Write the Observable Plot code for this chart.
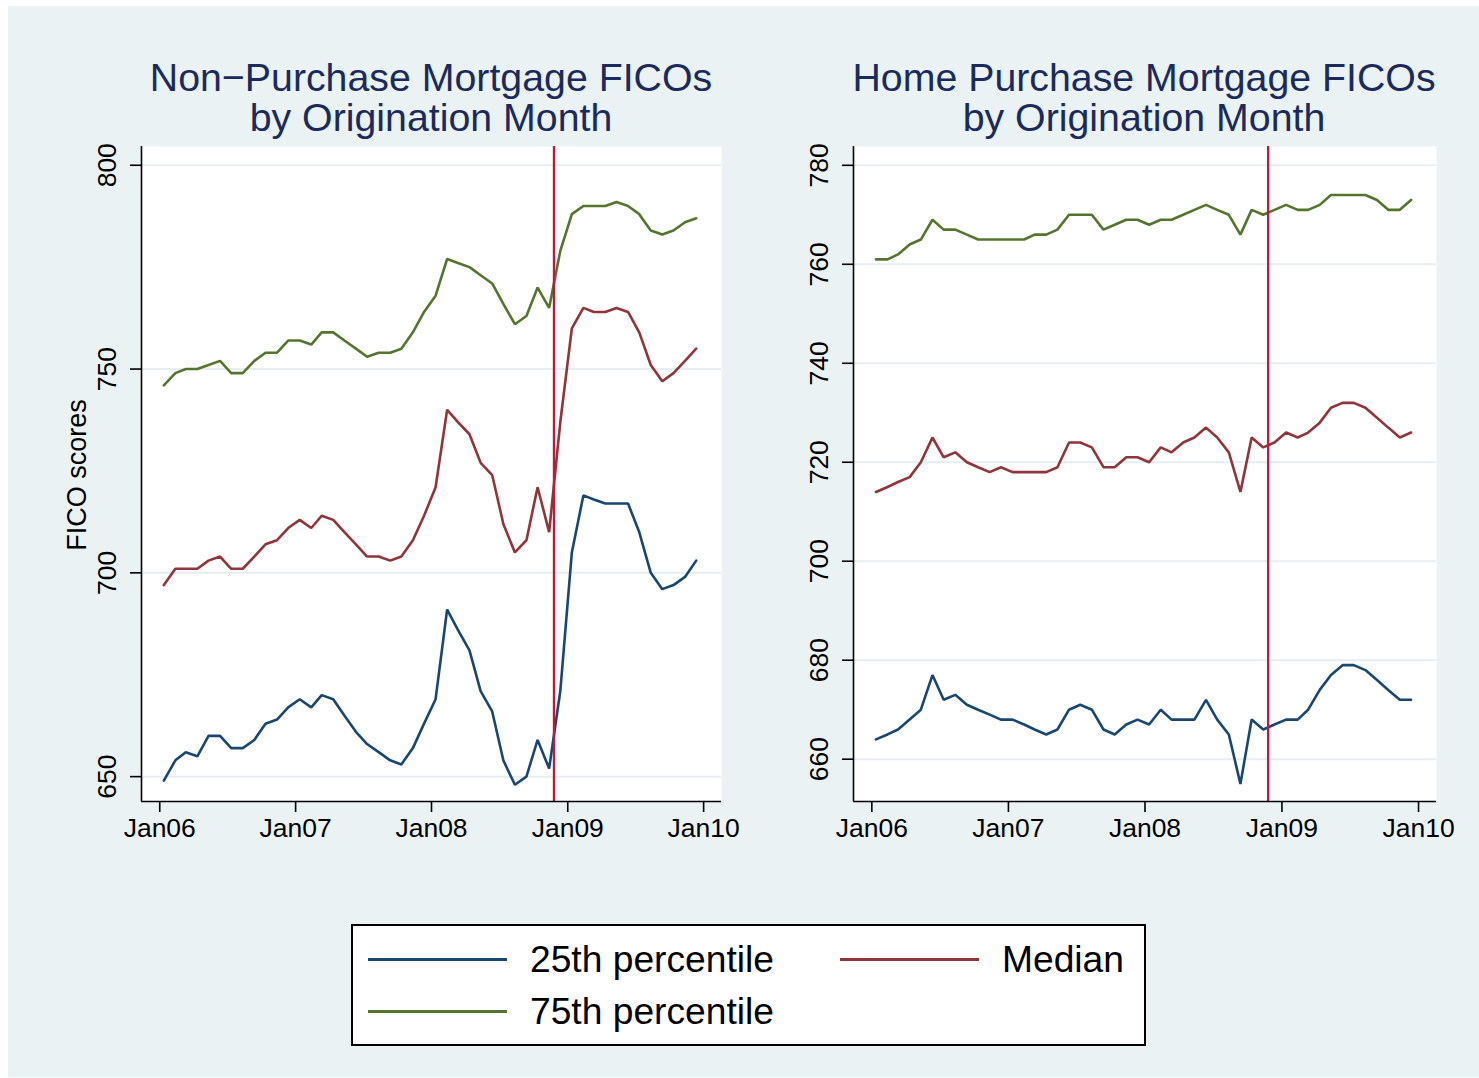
<!DOCTYPE html>
<html>
<head>
<meta charset="utf-8">
<script src="https://cdn.jsdelivr.net/npm/d3@7"></script>
<script src="https://cdn.jsdelivr.net/npm/@observablehq/plot@0.6"></script>
<style>
  body { margin: 0; background: #ffffff; font-family: "Liberation Sans", Arial, Helvetica, sans-serif; }
  #page { position: relative; width: 1479px; height: 1078px; overflow: hidden; }
  #bg { position: absolute; left: 8px; top: 6px; width: 1471px; height: 1071px; background: #eaf2f3; }
  .title { position: absolute; top: 57px; width: 700px; text-align: center; font-size: 39.3px; line-height: 40px; color: #1b2a5c; white-space: nowrap; }
  .panel { position: absolute; top: 0; }
  .panel svg { overflow: visible; }
  #ylab { position: absolute; left: 77px; top: 475px; font-size: 27px; line-height: 27px; white-space: nowrap; color: #000; transform: translate(-50%, -50%) rotate(-90deg); }
  #legend { position: absolute; left: 351px; top: 924px; width: 791px; height: 118px; border: 2px solid #000; background: #fff; }
  .sw { position: absolute; width: 139px; height: 3px; }
  .lt { position: absolute; font-size: 37.2px; line-height: 37.2px; white-space: nowrap; color: #000; }
</style>
</head>
<body>
<div id="page">
  <div id="bg"></div>
  <div class="title" style="left:81px">Non&minus;Purchase Mortgage FICOs<br>by Origination Month</div>
  <div class="title" style="left:794px">Home Purchase Mortgage FICOs<br>by Origination Month</div>
  <div id="left" class="panel" style="left:0px"></div>
  <div id="right" class="panel" style="left:740px"></div>
  <div id="ylab">FICO scores</div>
  <div id="legend"></div>
</div>
<script>
// ---- Data (monthly, Jan 2006 – Dec 2009) ----
const seriesNames = ["25th percentile", "Median", "75th percentile"];
const seriesColors = ["#1a476f", "#90353b", "#55752f"];

const nonPurchaseP25 = [649,654,656,655,660,660,657,657,659,663, 664,667,669,667,670,669,665,661,658,656,
  654,653,657,663,669,691,686,681,671,666, 654,648,650,659,652,671,705,719,718,717, 717,717,710,700,696,697,699,703];
const nonPurchaseMedian = [697,701,701,701,703,704,701,701,704,707, 708,711,713,711,714,713,710,707,704,704,
  703,704,708,714,721,740,737,734,727,724, 712,705,708,721,710,737,760,765,764,764, 765,764,759,751,747,749,752,755];
const nonPurchaseP75 = [746,749,750,750,751,752,749,749,752,754, 754,757,757,756,759,759,757,755,753,754,
  754,755,759,764,768,777,776,775,773,771, 766,761,763,770,765,779,788,790,790,790, 791,790,788,784,783,784,786,787];

const homeP25 = [664,665,666,668,670,677,672,673,671,670, 669,668,668,667,666,665,666,670,671,670,
  666,665,667,668,667,670,668,668,668,672, 668,665,655,668,666,667,668,668,670,674, 677,679,679,678,676,674,672,672];
const homeMedian = [714,715,716,717,720,725,721,722,720,719, 718,719,718,718,718,718,719,724,724,723,
  719,719,721,721,720,723,722,724,725,727, 725,722,714,725,723,724,726,725,726,728, 731,732,732,731,729,727,725,726];
const homeP75 = [761,761,762,764,765,769,767,767,766,765, 765,765,765,765,766,766,767,770,770,770,
  767,768,769,769,768,769,769,770,771,772, 771,770,766,771,770,771,772,771,771,772, 774,774,774,774,773,771,771,773];

const nonPurchaseYTicks = [650, 700, 750, 800];
const homeYTicks = [660, 680, 700, 720, 740, 760, 780];
const xTickYears = [2006, 2007, 2008, 2009, 2010];
const eventDate = new Date(Date.UTC(2008, 10, 25));

// month dates
const months = Array.from({length: 48}, (_, i) => new Date(Date.UTC(2006 + Math.floor(i / 12), i % 12, 12)));
const xTicks = xTickYears.map(y => new Date(Date.UTC(y, 0, 1)));
const xDomain = [new Date(Date.UTC(2005, 10, 13)), new Date(Date.UTC(2010, 1, 18))];

function toRows(p25, med, p75) {
  const rows = [];
  [[seriesNames[0], p25], [seriesNames[1], med], [seriesNames[2], p75]].forEach(([s, arr]) =>
    arr.forEach((v, i) => rows.push({date: months[i], value: v, series: s})));
  return rows;
}

function panel({rows, yDomain, yTicks, width, marginLeft, marginRight}) {
  return Plot.plot({
    width, height: 870,
    marginLeft, marginRight, marginTop: 146, marginBottom: 69,
    style: {background: "transparent", fontFamily: "'Liberation Sans', Arial, Helvetica, sans-serif", fontSize: "26.5px", color: "#000", overflow: "visible"},
    x: {type: "utc", domain: xDomain},
    y: {domain: yDomain},
    color: {domain: seriesNames, range: seriesColors},
    marks: [
      Plot.frame({fill: "#ffffff", stroke: "none"}),
      Plot.gridY(yTicks, {stroke: "#e6eef1", strokeOpacity: 1, strokeWidth: 2}),
      Plot.line(rows, {x: "date", y: "value", z: "series", stroke: "series", strokeWidth: 2.6, strokeLinejoin: "miter"}),
      Plot.ruleX([eventDate], {stroke: "#c8143c", strokeWidth: 2.3}),
      Plot.ruleX([xDomain[0]], {stroke: "#000", strokeWidth: 1.6}),
      Plot.ruleY([yDomain[0]], {stroke: "#000", strokeWidth: 1.6}),
      Plot.axisY(yTicks, {tickRotate: -90, tickSize: 11, tickPadding: 15, strokeWidth: 1.6, label: null, fontSize: 26.5}),
      Plot.axisX(xTicks, {tickFormat: d3.utcFormat("Jan%y"), tickSize: 11, tickPadding: 6, strokeWidth: 1.6, label: null, fontSize: 26.5})
    ]
  });
}

document.getElementById("left").appendChild(panel({
  rows: toRows(nonPurchaseP25, nonPurchaseMedian, nonPurchaseP75),
  yDomain: [643.9, 804.6], yTicks: nonPurchaseYTicks,
  width: 740, marginLeft: 141, marginRight: 19
}));
document.getElementById("right").appendChild(panel({
  rows: toRows(homeP25, homeMedian, homeP75),
  yDomain: [651.45, 783.8], yTicks: homeYTicks,
  width: 739, marginLeft: 113, marginRight: 43
}));

// legend
const legend = document.getElementById("legend");
const items = [
  {name: seriesNames[0], color: seriesColors[0], sx: 15, tx: 177, row: 0},
  {name: seriesNames[1], color: seriesColors[1], sx: 487, tx: 649, row: 0},
  {name: seriesNames[2], color: seriesColors[2], sx: 15, tx: 177, row: 1}
];
items.forEach(it => {
  const sw = document.createElement("div");
  sw.className = "sw";
  sw.style.left = it.sx + "px";
  sw.style.top = (31.5 + it.row * 52) + "px";
  sw.style.background = it.color;
  legend.appendChild(sw);
  const t = document.createElement("div");
  t.className = "lt";
  t.style.left = it.tx + "px";
  t.style.top = (14.5 + it.row * 52) + "px";
  t.textContent = it.name;
  legend.appendChild(t);
});
</script>
</body>
</html>
